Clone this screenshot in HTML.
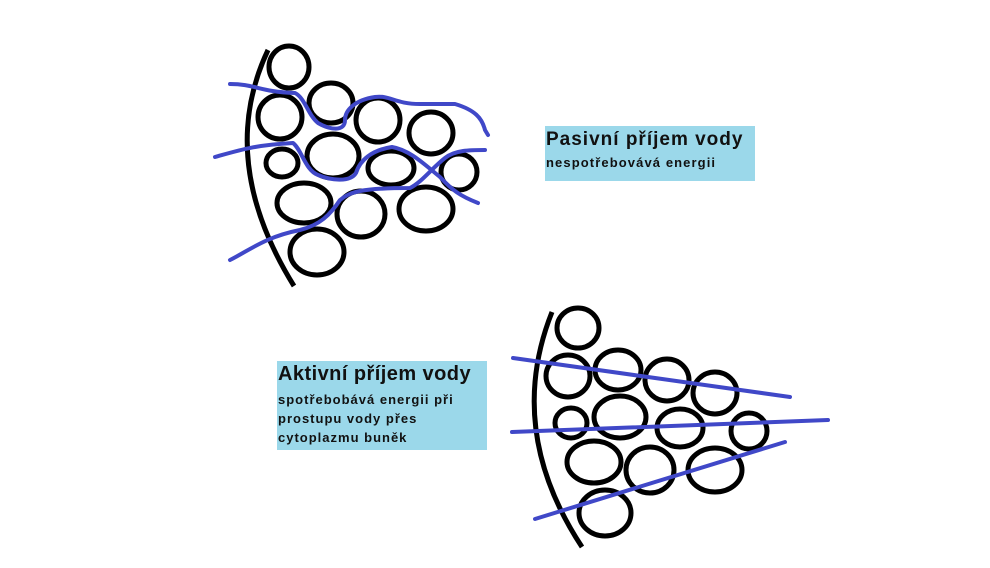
<!DOCTYPE html>
<html><head><meta charset="utf-8"><style>
body{margin:0;width:990px;height:568px;background:#fff;position:relative;overflow:hidden;font-family:"Liberation Sans","Noto Sans CJK JP",sans-serif;color:#111}
.box{position:absolute;background:#9bd8ea;font-weight:bold}
</style></head><body>
<svg width="990" height="568" style="position:absolute;left:0;top:0">
<g fill="none" stroke="#000" stroke-width="5">
<path d="M268,50 Q216,160 294,286"/>
<ellipse cx="289" cy="67" rx="20" ry="21"/>
<ellipse cx="280" cy="117" rx="22" ry="22"/>
<ellipse cx="331" cy="103" rx="22" ry="20"/>
<ellipse cx="378" cy="120" rx="22" ry="22"/>
<ellipse cx="431" cy="133" rx="22" ry="21"/>
<ellipse cx="282" cy="163" rx="16" ry="14"/>
<ellipse cx="333" cy="156" rx="26" ry="22"/>
<ellipse cx="391" cy="168" rx="23" ry="17"/>
<ellipse cx="459" cy="172" rx="18" ry="18"/>
<ellipse cx="304" cy="203" rx="27" ry="20"/>
<ellipse cx="361" cy="214" rx="24" ry="23"/>
<ellipse cx="426" cy="209" rx="27" ry="22"/>
<ellipse cx="317" cy="252" rx="27" ry="23"/>

<path d="M552,312 Q505,430 582,547"/>
<ellipse cx="578" cy="328" rx="21" ry="20"/>
<ellipse cx="568" cy="376" rx="22" ry="21"/>
<ellipse cx="618" cy="370" rx="23" ry="20"/>
<ellipse cx="667" cy="380" rx="22" ry="21"/>
<ellipse cx="715" cy="393" rx="22" ry="21"/>
<ellipse cx="571" cy="423" rx="16" ry="15"/>
<ellipse cx="620" cy="417" rx="26" ry="21"/>
<ellipse cx="680" cy="428" rx="23" ry="19"/>
<ellipse cx="749" cy="431" rx="18" ry="18"/>
<ellipse cx="594" cy="462" rx="27" ry="21"/>
<ellipse cx="650" cy="470" rx="24" ry="23"/>
<ellipse cx="715" cy="470" rx="27" ry="22"/>
<ellipse cx="605" cy="513" rx="26" ry="23"/>
</g>
<g fill="none" stroke="#4048c8" stroke-width="4" stroke-linejoin="round" stroke-linecap="round">
<path d="M230,84 C255,84 260,92 295,93 C305,98 308,115 318,123 C330,130 345,132 345,120 C345,110 355,100 375,97 C390,95 395,104 420,104 L455,104 C475,110 482,118 485,130 L488,135"/>
<path d="M215,157 C240,150 255,145 293,143 C302,150 305,170 318,175 C330,180 350,183 356,173 C360,160 372,150 392,147 C410,150 425,165 440,177 C452,190 460,196 478,203"/>
<path d="M230,260 C250,250 265,237 300,230 C320,225 330,215 340,200 C350,192 360,188 410,188 C422,182 432,168 445,158 C455,150 470,150 485,150"/>
<path d="M513,358 L790,397"/>
<path d="M512,432 L828,420"/>
<path d="M535,519 L785,442"/>
</g>
</svg>
<div class="box" style="left:545px;top:126px;width:210px;height:55px">
<div style="position:absolute;left:1px;top:3px;font-size:19px;letter-spacing:1px;white-space:nowrap">Pasivní příjem vody</div>
<div style="position:absolute;left:1px;top:29px;font-size:13px;letter-spacing:1.1px;white-space:nowrap">nespotřebovává energii</div>
</div>
<div class="box" style="left:277px;top:361px;width:210px;height:89px">
<div style="position:absolute;left:1px;top:2px;font-size:20px;letter-spacing:0.45px;white-space:nowrap">Aktivní příjem vody</div>
<div style="position:absolute;left:1px;top:29px;font-size:13px;letter-spacing:1px;line-height:19px;white-space:nowrap">spotřebobává energii při<br>prostupu vody přes<br>cytoplazmu buněk</div>
</div>
</body></html>
